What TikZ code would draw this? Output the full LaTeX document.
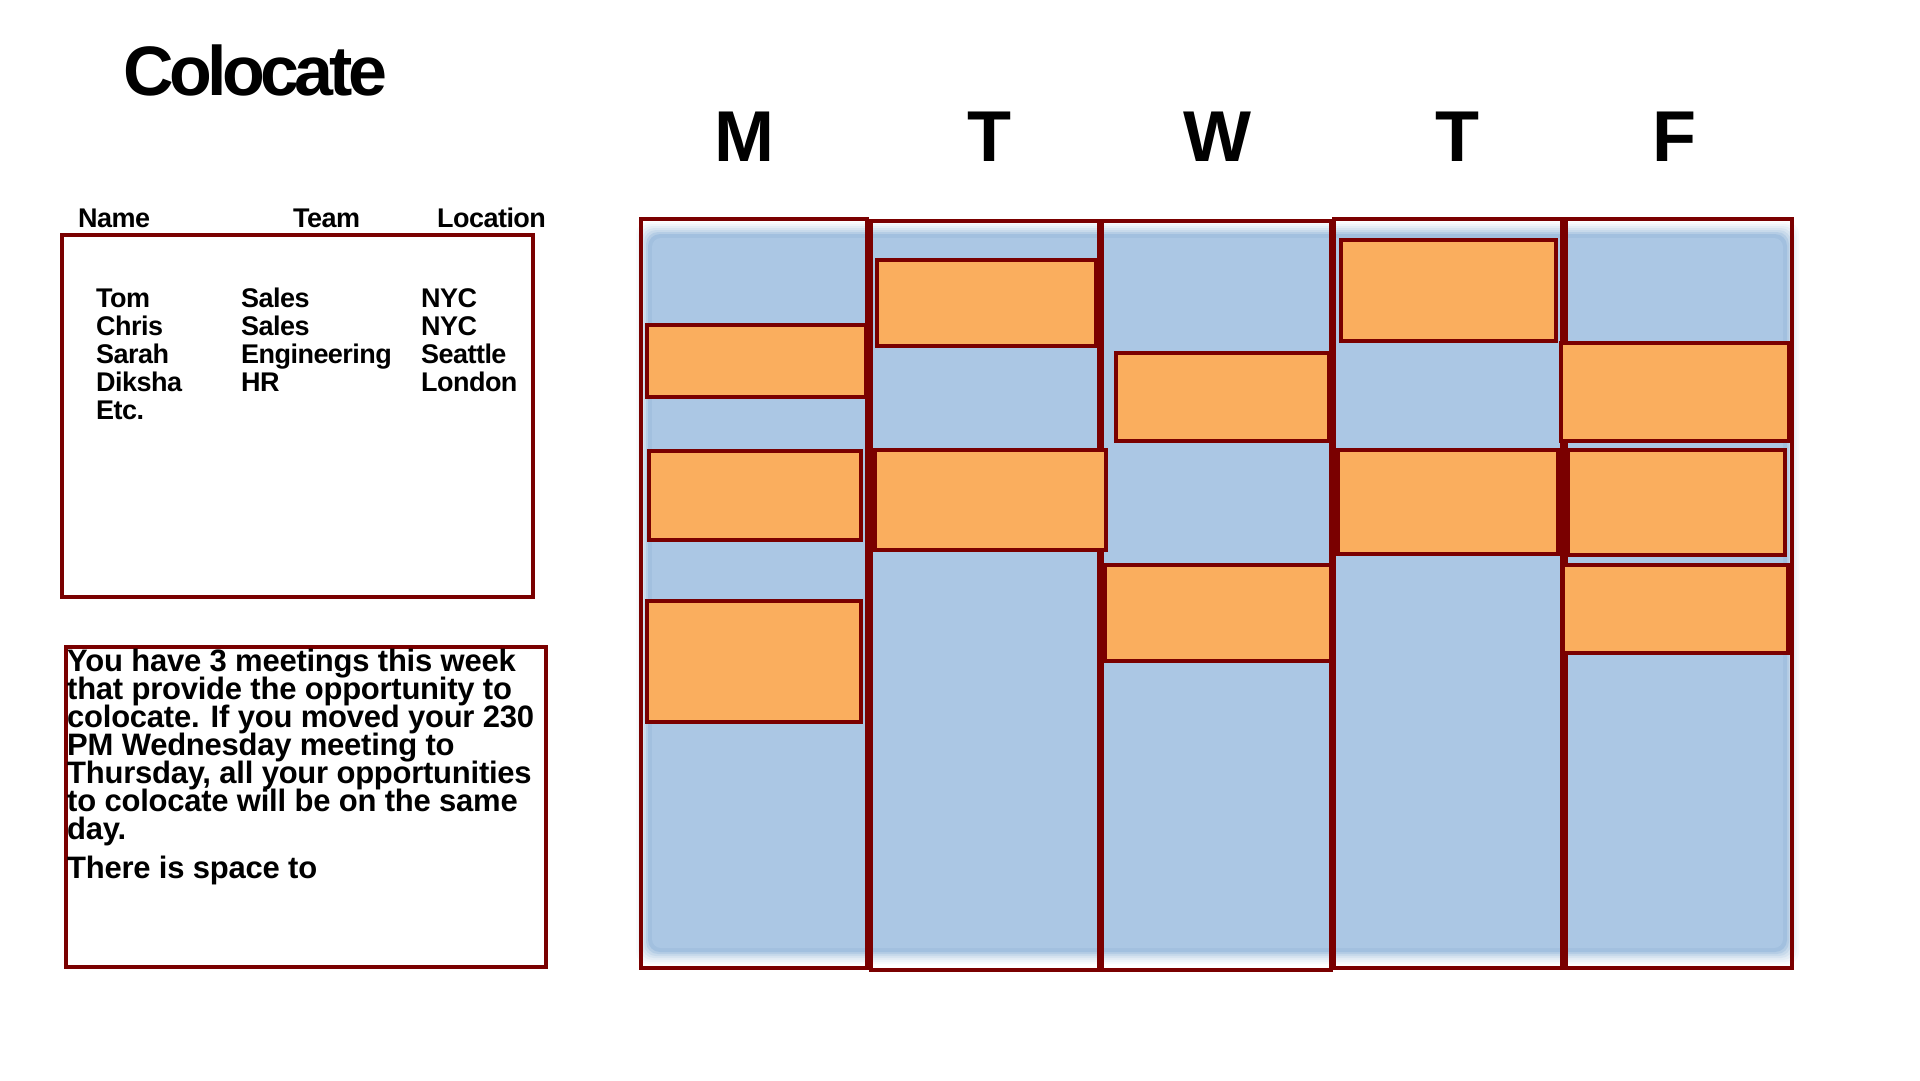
\documentclass[tikz,border=0pt]{standalone}
\usepackage{fontspec}
\setmainfont{Liberation Sans}
\newfontfamily\titlefont[LetterSpace=-6.5]{Liberation Sans}
\newfontfamily\tabfont[LetterSpace=-2]{Liberation Sans}
\newfontfamily\parafont[LetterSpace=-0.8]{Liberation Sans}
\definecolor{dred}{RGB}{122,0,0}
\definecolor{orng}{RGB}{250,174,94}
\definecolor{bluefill}{RGB}{171,199,228}
\definecolor{bluerim}{RGB}{140,178,216}
\tikzset{
  colbox/.style={draw=dred, line width=4pt},
  meet/.style={fill=orng, draw=dred, line width=3.5pt},
  panel/.style={draw=dred, line width=4pt},
  daylbl/.style={anchor=base, inner sep=0pt, font=\bfseries\fontsize{72}{72}\selectfont},
  hdr/.style={anchor=base west, inner sep=0pt, font=\tabfont\bfseries\fontsize{27}{27}\selectfont},
  cell/.style={anchor=base west, inner sep=0pt, font=\tabfont\bfseries\fontsize{27}{27}\selectfont},
  para/.style={anchor=base west, inner sep=0pt, font=\parafont\bfseries\fontsize{31}{31}\selectfont},
}
\begin{document}
\begin{tikzpicture}[x=1pt,y=-1pt]
\useasboundingbox[fill=white] (0,0) rectangle (1920,1080);

% title
\node[anchor=base west, inner sep=0pt, font=\titlefont\bfseries\fontsize{70}{70}\selectfont] (title) at (123,95) {Colocate};

% day letters
\node[daylbl] (dM) at (744,161) {M};
\node[daylbl] (dT1) at (989,161) {T};
\node[daylbl] (dW) at (1217,161) {W};
\node[daylbl] (dT2) at (1457,161) {T};
\node[daylbl] (dF) at (1674,161) {F};

% table headers
\node[hdr] (hName) at (78,227) {Name};
\node[hdr] (hTeam) at (293,227) {Team};
\node[hdr] (hLoc) at (437,227) {Location};

% table box
\draw[panel] (62,235) rectangle (533,597);

% table rows
\node[cell] (n1) at (96,307) {Tom};
\node[cell] (n2) at (96,335) {Chris};
\node[cell] (n3) at (96,363) {Sarah};
\node[cell] (n4) at (96,391) {Diksha};
\node[cell] (n5) at (96,419) {Etc.};
\node[cell] (t1) at (241,307) {Sales};
\node[cell] (t2) at (241,335) {Sales};
\node[cell] (t3) at (241,363) {Engineering};
\node[cell] (t4) at (241,391) {HR};
\node[cell] (l1) at (421,307) {NYC};
\node[cell] (l2) at (421,335) {NYC};
\node[cell] (l3) at (421,363) {Seattle};
\node[cell] (l4) at (421,391) {London};

% message box
\draw[panel] (66,647) rectangle (546,967);
\node[para] (p1) at (67,671) {You have 3 meetings this week};
\node[para] (p2) at (67,699) {that provide the opportunity to};
\node[para] (p3) at (67,727) {colocate. If you moved your 230};
\node[para] (p4) at (67,755) {PM Wednesday meeting to};
\node[para] (p5) at (67,783) {Thursday, all your opportunities};
\node[para] (p6) at (67,811) {to colocate will be on the same};
\node[para] (p7) at (67,839) {day.};
\node[para] (p8) at (67,878) {There is space to};

% blue calendar background with soft edge
\foreach \d/\o in {12/0.06, 10/0.08, 8/0.10, 6/0.14, 4/0.2, 2/0.3, 0/0.45}{
  \fill[bluerim, opacity=\o, rounded corners=12pt] (648-\d,234-\d) rectangle (1787+\d,952+\d);
}
\fill[bluefill, rounded corners=9pt] (652,238) rectangle (1783,948);

% day columns
\draw[colbox] (641,219) rectangle (867,968);
\draw[colbox] (871,221) rectangle (1099,970);
\draw[colbox] (1102,221) rectangle (1331,970);
\draw[colbox] (1334,219) rectangle (1562,968);
\draw[colbox] (1566,219) rectangle (1792,968);

% meetings
\draw[meet] (647,325) rectangle (866,397);
\draw[meet] (649,451) rectangle (861,540);
\draw[meet] (647,601) rectangle (861,722);

\draw[meet] (877,260) rectangle (1096,346);
\draw[meet] (875,450) rectangle (1106,550);

\draw[meet] (1116,353) rectangle (1329,441);
\draw[meet] (1105,565) rectangle (1331,661);

\draw[meet] (1341,240) rectangle (1556,341);
\draw[meet] (1338,450) rectangle (1558,554);

\draw[meet] (1561,343) rectangle (1789,441);
\draw[meet] (1568,450) rectangle (1785,555);
\draw[meet] (1563,565) rectangle (1788,653);
\end{tikzpicture}
\end{document}
